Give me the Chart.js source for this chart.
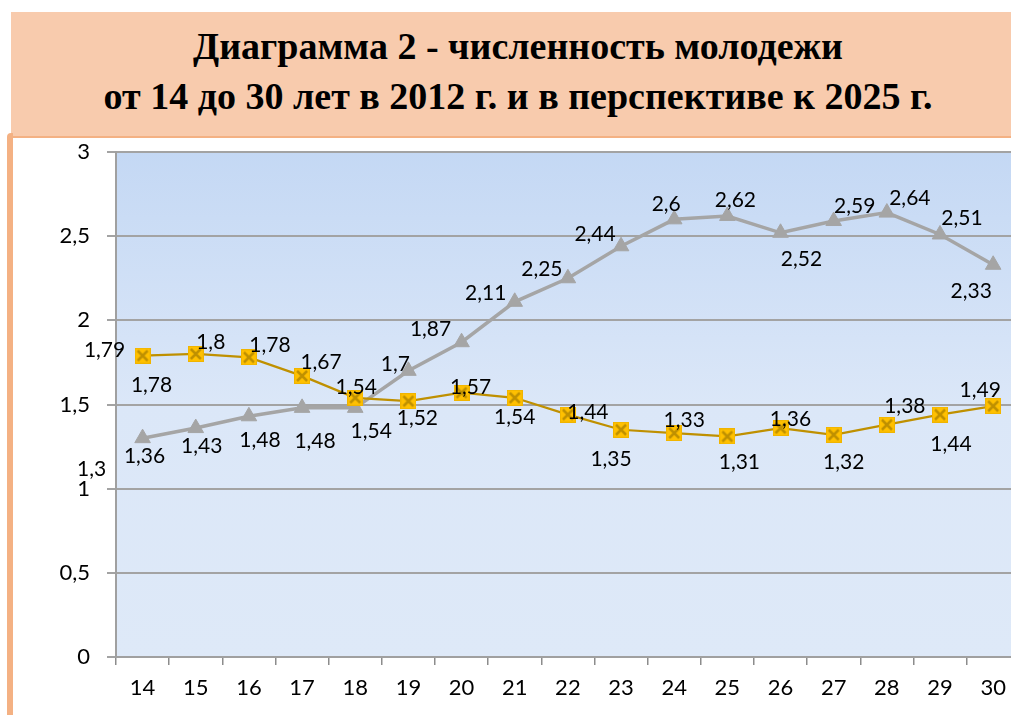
<!DOCTYPE html>
<html>
<head>
<meta charset="utf-8">
<script src="https://cdn.jsdelivr.net/npm/chart.js@4.4.1/dist/chart.umd.min.js"></script>
<style>
  html, body { margin: 0; padding: 0; background: #fff; overflow: hidden; width: 1011px; height: 715px; }
  #chart { position: absolute; left: 0; top: 0; }
  #title {
    position: absolute; left: 11px; top: 12px; width: 1000px; height: 126px;
    box-sizing: border-box; padding: 9px 0 0 14px;
    background: #f8cbad; border-bottom: 2px solid #f4b183;
    font: bold 38px "Liberation Serif", "Times New Roman", serif;
    line-height: 50px; text-align: center; color: #000;
  }
  #leftBar {
    position: absolute; left: 7px; top: 133px; width: 6px; height: 582px;
    background: #f4b183; border-top-left-radius: 4px;
  }
</style>
</head>
<body>
<canvas id="chart" width="1030" height="715"></canvas>
<div id="title">Диаграмма 2 - численность молодежи<br>от 14 до 30 лет в 2012 г. и в перспективе к 2025 г.</div>
<div id="leftBar"></div>
<script>
const ages = ['14', '15', '16', '17', '18', '19', '20', '21', '22', '23', '24', '25', '26', '27', '28', '29', '30'];
const yTicks = [0, 0.5, 1, 1.5, 2, 2.5, 3];

// оранжевая линия (2012)
const series2012 = [1.79, 1.8, 1.78, 1.67, 1.54, 1.52, 1.57, 1.54, 1.44, 1.35, 1.33, 1.31, 1.36, 1.32, 1.38, 1.44, 1.49];
const labels2012 = ['1,79', '1,8', '1,78', '1,67', '1,54', '1,52', '1,57', '1,54', '1,44', '1,35', '1,33', '1,31', '1,36', '1,32', '1,38', '1,44', '1,49'];
// серая линия (2025)
const series2025 = [1.3, 1.36, 1.43, 1.48, 1.48, 1.7, 1.87, 2.11, 2.25, 2.44, 2.6, 2.62, 2.52, 2.59, 2.64, 2.51, 2.33];
const labels2025 = ['1,3', '1,43', '1,48', '1,48', '1,54', '1,7', '1,87', '2,11', '2,25', '2,44', '2,6', '2,62', '2,52', '2,59', '2,64', '2,51', '2,33'];

// where each label sits relative to its point
const shift2012 = [[-38, -6], [15, -12], [21, -12], [19, -14], [1, -11], [9, 17], [9, -6], [0, 19], [20, -3], [-10, 29], [10, -13], [12, 26], [10, -9], [10, 27], [18, -19], [11, 29], [-13, -16]];
const shift2025 = [[-51, 31], [6, 18], [11, 24], [13, 33], [16, 23], [-13, -7], [-31, -13], [-29, -9], [-26, -9], [-26, -12], [-8, -15], [8, -16], [21, 26], [21, -15], [23, -15], [22, -16], [-22, 26]];
// stray second labels at the first point
const extra2012 = [{ index: 0, text: '1,78', shift: [9, 29] }];
const extra2025 = [{ index: 0, text: '1,36', shift: [2, 18] }];

function makeCrossMarker() {
    const c = document.createElement('canvas');
    c.width = 16; c.height = 16;
    const g = c.getContext('2d');
    g.fillStyle = '#ffc000';
    g.fillRect(0.5, 0.5, 15, 15);
    g.strokeStyle = '#f0b400';
    g.lineWidth = 1;
    g.strokeRect(0.5, 0.5, 15, 15);
    g.strokeStyle = '#bf9000';
    g.lineWidth = 2.5;
    g.beginPath();
    g.moveTo(3, 3); g.lineTo(13, 13);
    g.moveTo(13, 3); g.lineTo(3, 13);
    g.stroke();
    return c;
}

const plotBackground = {
    id: 'plotBackground',
    beforeDraw(chart) {
        const { ctx, chartArea } = chart;
        const grad = ctx.createLinearGradient(0, chartArea.top, 0, chartArea.bottom);
        grad.addColorStop(0, '#c4d8f4');
        grad.addColorStop(0.5, '#dbe7f8');
        grad.addColorStop(1, '#dee9f8');
        ctx.save();
        ctx.fillStyle = grad;
        ctx.fillRect(chartArea.left, chartArea.top, chartArea.right - chartArea.left, chartArea.bottom - chartArea.top);
        ctx.restore();
    }
};

const pointLabels = {
    id: 'pointLabels',
    afterDatasetsDraw(chart) {
        const ctx = chart.ctx;
        ctx.save();
        ctx.font = '21px Lato';
        ctx.fillStyle = '#000';
        ctx.textAlign = 'center';
        ctx.textBaseline = 'alphabetic';
        chart.data.datasets.forEach((ds, i) => {
            const meta = chart.getDatasetMeta(i);
            const put = (j, text, shift) => {
                const p = meta.data[j];
                ctx.fillText(text, p.x + shift[0], p.y + shift[1] + 7);
            };
            ds.labelText.forEach((t, j) => put(j, t, ds.labelShift[j]));
            ds.extraLabels.forEach(e => put(e.index, e.text, e.shift));
        });
        ctx.restore();
    }
};

const ctx = document.getElementById('chart').getContext('2d');
new Chart(ctx, {
    type: 'line',
    data: {
        labels: ages,
        datasets: [
            {
                label: '2012',
                data: series2012,
                borderColor: '#bf9000',
                borderWidth: 2.25,
                pointStyle: makeCrossMarker(),
                pointRadius: 8,
                tension: 0,
                labelText: labels2012,
                labelShift: shift2012,
                extraLabels: extra2012,
            },
            {
                label: '2025',
                data: series2025,
                borderColor: '#a5a5a5',
                borderWidth: 3.5,
                pointStyle: 'triangle',
                pointRadius: 9,
                pointBackgroundColor: '#a5a5a5',
                pointBorderColor: '#a5a5a5',
                pointBorderWidth: 1,
                tension: 0,
                labelText: labels2025,
                labelShift: shift2025,
                extraLabels: extra2025,
            },
        ],
    },
    options: {
        responsive: false,
        animation: false,
        events: [],
        layout: { padding: { top: 152, right: 5, left: 0, bottom: 0 } },
        plugins: {
            legend: { display: false },
            tooltip: { enabled: false },
        },
        scales: {
            x: {
                offset: true,
                grid: { offset: true, drawOnChartArea: false, drawTicks: true, tickLength: 8, color: '#8c8c8c', lineWidth: 1.5 },
                border: { color: '#a0a0a0', width: 2 },
                ticks: { color: '#000', font: { family: 'Lato', size: 22 }, padding: 10, maxRotation: 0 },
                afterFit: s => { s.height = 58; },
            },
            y: {
                min: 0,
                max: 3,
                afterBuildTicks: s => { s.ticks = yTicks.map(v => ({ value: v })); },
                grid: { color: '#a3a3a3', lineWidth: 2, tickLength: 9 },
                border: { color: '#a0a0a0', width: 2 },
                ticks: {
                    color: '#000',
                    font: { family: 'Lato', size: 22 },
                    padding: 17,
                    callback: v => String(v).replace('.', ','),
                },
                afterFit: s => { s.width = 116; },
            },
        },
    },
    plugins: [plotBackground, pointLabels],
});
</script>
</body>
</html>
